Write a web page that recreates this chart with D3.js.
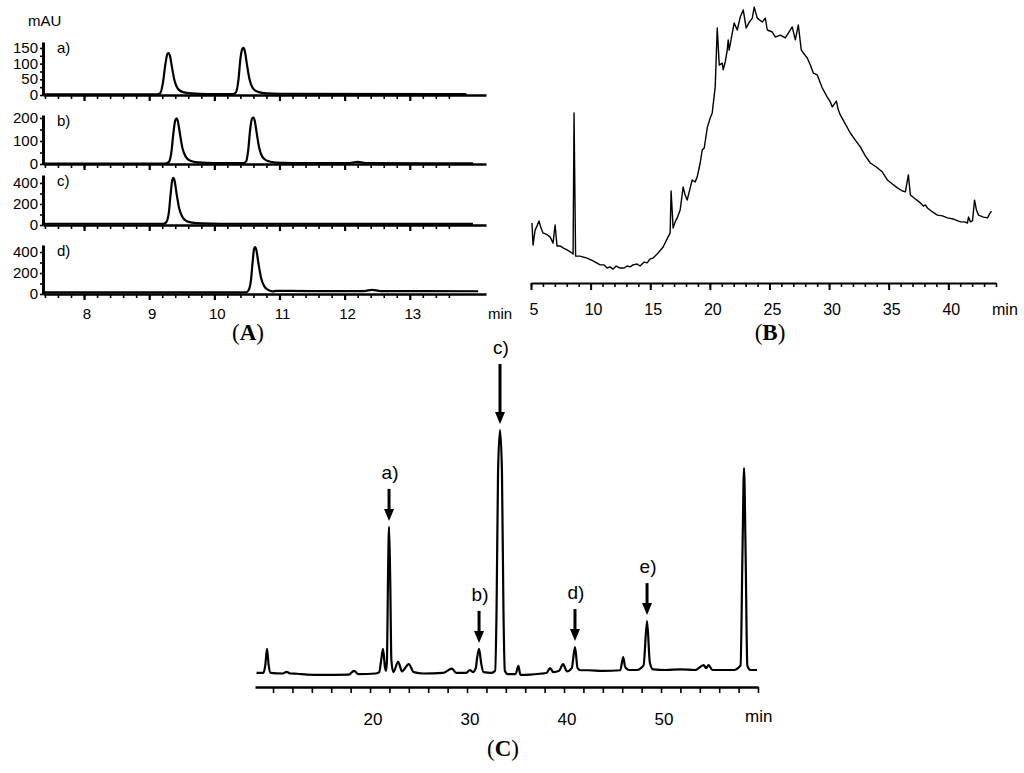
<!DOCTYPE html>
<html>
<head>
<meta charset="utf-8">
<script src="https://cdn.jsdelivr.net/npm/d3@7"></script>
<style>
  body { margin: 0; background: #fff; }
  svg { display: block; }
</style>
</head>
<body>
<svg id="canvas" width="1024" height="773"></svg>
<script>
// ---- data: panel A (time min, mAU) ----
let traceAa = [[7.37,2],[9.12,2],[9.17,6],[9.21,38],[9.25,100],[9.28,131],[9.30,134],[9.32,124],[9.35,88],[9.39,45],[9.44,20],[9.52,9],[9.65,5],[9.9,3],[10.28,3],[10.33,8],[10.37,48],[10.40,115],[10.43,147],[10.45,150],[10.47,138],[10.50,98],[10.54,50],[10.59,22],[10.67,10],[10.8,5],[11.0,4],[13.87,3]]
let traceAb = [[7.37,2],[9.25,2],[9.30,8],[9.34,50],[9.37,130],[9.40,190],[9.42,198],[9.44,186],[9.47,135],[9.51,70],[9.56,32],[9.63,14],[9.75,7],[10.0,4],[10.45,4],[10.49,12],[10.52,60],[10.55,150],[10.58,198],[10.60,202],[10.62,188],[10.65,135],[10.69,68],[10.74,30],[10.82,13],[10.95,6],[11.2,4],[12.05,4],[12.2,9],[12.35,4],[13.97,3]]
let traceAc = [[7.37,12],[9.22,12],[9.26,25],[9.30,110],[9.33,300],[9.355,430],[9.37,448],[9.39,420],[9.42,300],[9.46,160],[9.51,75],[9.57,38],[9.66,22],[9.8,15],[10.1,12],[13.97,10]]
let traceAd = [[7.37,15],[10.48,15],[10.52,30],[10.56,120],[10.59,320],[10.61,430],[10.625,448],[10.645,420],[10.675,300],[10.715,160],[10.765,75],[10.825,40],[10.9,25],[10.95,30],[11.5,28],[12.3,28],[12.42,40],[12.55,28],[14.05,26]]
let namesA = ['a)', 'b)', 'c)', 'd)']
let yTicksA = [[0, 50, 100, 150], [0, 100, 200], [0, 200, 400], [0, 200, 400]]
let xTicksA = [8, 9, 10, 11, 12, 13]

// ---- data: panel B (time min, signal) ----
let traceB = [[5.08,21.2],[5.17,13.4],[5.34,18.7],[5.50,20.1],[5.67,21.9],[5.84,19.4],[6.01,17.7],[6.26,17.3],[6.60,16.3],[6.85,14.1],[7.02,20.5],[7.18,13.1],[7.43,13.1],[7.69,12.4],[8.02,11.7],[8.44,10.6],[8.53,10.2],[8.61,60.1],[8.74,9.5],[9.11,9.5],[9.70,8.8],[10.21,7.8],[10.79,6.4],[11.13,6.4],[11.38,5.3],[11.63,5.7],[11.89,4.9],[12.14,6.0],[12.47,5.3],[12.81,5.3],[13.06,6.0],[13.31,5.7],[13.56,6.4],[13.90,6.7],[14.15,6.0],[14.49,7.4],[14.74,7.1],[14.99,8.5],[15.24,8.8],[15.66,10.6],[16.08,12.7],[16.50,16.3],[16.67,17.7],[16.75,32.5],[16.92,19.4],[17.09,21.6],[17.26,23.0],[17.51,25.8],[17.76,33.9],[17.93,31.1],[18.10,29.3],[18.35,33.6],[18.52,36.4],[18.77,35.7],[18.94,37.5],[19.19,42.4],[19.36,47.0],[19.53,47.7],[19.78,54.8],[20.03,58.3],[20.20,60.1],[20.45,69.3],[20.62,90.1],[20.79,77.0],[21.04,77.7],[21.12,75.3],[21.29,78.1],[21.46,82.3],[21.54,85.9],[21.62,82.3],[21.88,88.3],[22.04,91.9],[22.30,89.4],[22.55,94.0],[22.80,96.5],[23.05,90.1],[23.31,92.2],[23.56,93.6],[23.72,97.5],[23.98,93.6],[24.40,92.2],[24.65,93.6],[24.82,89.4],[25.24,88.7],[25.49,86.9],[25.91,87.6],[26.33,86.6],[26.58,88.3],[26.91,90.5],[27.17,85.9],[27.42,91.2],[27.67,82.3],[28.17,79.5],[28.43,77.0],[28.68,74.2],[29.01,73.5],[29.43,68.9],[29.85,65.7],[30.10,64.0],[30.27,62.2],[30.61,64.3],[30.78,61.1],[30.94,59.4],[31.36,56.2],[31.78,53.0],[32.20,50.5],[32.62,48.1],[33.04,44.9],[33.46,42.4],[33.97,41.0],[34.47,39.2],[34.89,36.4],[35.31,35.0],[35.73,33.6],[36.15,32.5],[36.40,32.2],[36.65,38.2],[36.82,31.1],[37.24,29.7],[37.66,28.3],[37.91,27.2],[38.08,27.6],[38.25,26.5],[38.67,25.1],[39.09,24.0],[39.51,23.7],[39.93,23.0],[40.43,22.6],[41.02,21.6],[41.36,21.6],[41.61,21.2],[41.69,23.3],[41.86,21.6],[42.03,22.0],[42.20,29.3],[42.36,25.8],[42.53,24.0],[42.95,23.3],[43.29,23.0],[43.46,24.4],[43.62,25.4]]
let xTicksB = [5, 10, 15, 20, 25, 30, 35, 40]

// ---- data: panel C (time min, signal) ----
let traceC = [[8.3,5.2],[9.0,5.2],[9.2,8],[9.38,14.1],[9.55,8],[9.75,5.2],[11.0,5.0],[11.4,5.6],[11.8,5.0],[12.5,4.9],[13.5,4.6],[15,4.5],[17.8,4.6],[18.35,6.0],[18.8,4.8],[20.6,5.0],[20.95,5.5],[21.15,10],[21.34,14.1],[21.55,7],[21.65,6.0],[21.75,10],[21.85,40],[21.96,59.3],[22.08,40],[22.2,10],[22.4,5.5],[22.9,9.3],[23.3,5.8],[24.0,8.5],[24.5,5.5],[25.5,5.0],[27.5,5.2],[28.45,6.8],[28.9,5.2],[29.9,5.2],[30.3,6.3],[30.6,5.5],[30.9,7],[31.05,11],[31.24,14.1],[31.45,9],[31.7,5.5],[32.5,5.2],[32.9,6],[33.05,30],[33.2,80],[33.4,95.2],[33.6,80],[33.75,30],[33.9,6],[34.2,4.8],[35.0,4.8],[35.3,7.8],[35.5,4.5],[36.5,4.6],[37.5,4.9],[38.2,5.2],[38.56,7.0],[38.9,5.5],[39.5,6],[39.9,8.5],[40.3,5.8],[40.8,7],[41.13,14.8],[41.4,7],[41.7,6.2],[42.5,6.2],[44,6.0],[45.8,6.2],[46.1,11.1],[46.3,7.5],[46.7,6.3],[47.5,6.3],[48.2,8],[48.56,24.4],[48.85,9],[49.2,6.5],[50.5,6.3],[52,6.5],[53.5,6.3],[54.4,8.1],[54.65,7.0],[54.9,8.1],[55.3,6.3],[57.5,6.3],[58.2,8],[58.4,50],[58.56,81.1],[58.72,50],[58.9,8],[59.2,6.3],[59.9,6.3]]
let peakLabelsC = ['a)', 'b)', 'c)', 'd)', 'e)']
let peakTimesC = [21.96, 31.24, 33.4, 41.13, 48.56]
let peakHeightsC = [59.3, 14.1, 95.2, 14.8, 24.4]
let xTicksC = [20, 30, 40, 50]

let canvas = d3.select('#canvas')
let sans = "'Liberation Sans', Arial, sans-serif"
let narrow = "'Liberation Sans Narrow', 'Arial Narrow', 'Liberation Sans', sans-serif"
let serif = "'Liberation Serif', 'Times New Roman', serif"

let styleAxis = (g, w) => {
  g.select('.domain').attr('stroke', '#000').attr('stroke-width', w)
  g.selectAll('.tick line').attr('stroke', '#000').attr('stroke-width', 1.6)
}

// ================= panel A =================
let xA = d3.scaleLinear().domain([7.37, 14.17]).range([43, 486])
let layoutA = [
  { base: 95, top: 42, max: 169, minor: 25 },
  { base: 164, top: 115, max: 213, minor: 50 },
  { base: 225, top: 175, max: 476, minor: 100 },
  { base: 294, top: 245, max: 467, minor: 100 }
]
let tracesA = [traceAa, traceAb, traceAc, traceAd]
let minorTicksA = d3.range(7.4, 13.61, 0.2)

tracesA.forEach((trace, i) => {
  let lay = layoutA[i]
  let y = d3.scaleLinear().domain([0, lay.max]).range([lay.base, lay.top])
  let g = canvas.append('g')

  // x axis: minor then major ticks
  let gx = g.append('g').attr('transform', `translate(0,${lay.base})`)
    .call(d3.axisBottom(xA).tickValues(minorTicksA).tickSize(4).tickSizeOuter(0).tickFormat(''))
  styleAxis(gx, 2.6)
  let gx2 = g.append('g').attr('transform', `translate(0,${lay.base})`)
    .call(d3.axisBottom(xA).tickValues(xTicksA).tickSize(6).tickSizeOuter(0).tickFormat(''))
  gx2.select('.domain').remove()
  gx2.selectAll('.tick line').attr('stroke', '#000').attr('stroke-width', 2.2)

  // y axis
  let gy = g.append('g').attr('transform', 'translate(43,0)')
    .call(d3.axisLeft(y).tickValues(d3.range(0, lay.max, lay.minor)).tickSize(3).tickSizeOuter(0).tickFormat(''))
  styleAxis(gy, 3)
  g.selectAll('.ylab').data(yTicksA[i]).enter().append('text')
    .attr('x', 38).attr('y', d => y(d) + 5)
    .attr('text-anchor', 'end')
    .style('font-family', sans).style('font-size', '15px')
    .text(d => d)

  g.append('text').attr('x', 57).attr('y', lay.top + 11)
    .style('font-family', sans).style('font-size', '15px').text(namesA[i])

  g.append('path').datum(trace)
    .attr('fill', 'none').attr('stroke', '#000').attr('stroke-width', 2.2)
    .attr('stroke-linejoin', 'round')
    .attr('d', d3.line().x(d => xA(d[0])).y(d => y(d[1])).curve(d3.curveMonotoneX))
})

canvas.selectAll('.xlabA').data(xTicksA).enter().append('text')
  .attr('x', d => xA(d) + 3).attr('y', 319)
  .attr('text-anchor', 'middle')
  .style('font-family', sans).style('font-size', '15px')
  .text(d => d)
canvas.append('text').attr('x', 488).attr('y', 319)
  .style('font-family', sans).style('font-size', '15px').text('min')
canvas.append('text').attr('x', 28).attr('y', 26)
  .style('font-family', sans).style('font-size', '15px').text('mAU')

// ================= panel B =================
let xB = d3.scaleLinear().domain([5, 44]).range([531, 996])
let yB = d3.scaleLinear().domain([0, 100]).range([283, 0])

let gBx = canvas.append('g').attr('transform', 'translate(0,283)')
  .call(d3.axisBottom(xB).tickValues(d3.range(5, 44.1, 1)).tickSize(4).tickSizeOuter(0).tickFormat(''))
styleAxis(gBx, 2.2)
let gBx2 = canvas.append('g').attr('transform', 'translate(0,283)')
  .call(d3.axisBottom(xB).tickValues(xTicksB).tickSize(7).tickSizeOuter(0).tickFormat(''))
gBx2.select('.domain').remove()
gBx2.selectAll('.tick line').attr('stroke', '#000').attr('stroke-width', 2)

canvas.selectAll('.xlabB').data(xTicksB).enter().append('text')
  .attr('x', d => xB(d) + 3).attr('y', 315)
  .attr('text-anchor', 'middle')
  .style('font-family', sans).style('font-size', '16px')
  .text(d => d)
canvas.append('text').attr('x', 992).attr('y', 315)
  .style('font-family', sans).style('font-size', '16px').text('min')

canvas.append('path').datum(traceB)
  .attr('fill', 'none').attr('stroke', '#000').attr('stroke-width', 1.4)
  .attr('stroke-linejoin', 'round')
  .attr('d', d3.line().x(d => xB(d[0])).y(d => yB(d[1])))

// ================= panel C =================
let xC = d3.scaleLinear().domain([8.14, 60.0]).range([255, 758])
let yC = d3.scaleLinear().domain([0, 100]).range([687, 417])

let gCx = canvas.append('g').attr('transform', 'translate(0,687)')
  .call(d3.axisBottom(xC).tickValues(d3.range(10, 60.1, 2)).tickSize(6).tickSizeOuter(0).tickFormat(''))
styleAxis(gCx, 2.6)

canvas.selectAll('.xlabC').data(xTicksC).enter().append('text')
  .attr('x', d => xC(d) + 3).attr('y', 725)
  .attr('text-anchor', 'middle')
  .style('font-family', narrow).style('font-size', '17px')
  .text(d => d)
canvas.append('text').attr('x', 745).attr('y', 722)
  .style('font-family', narrow).style('font-size', '17px').text('min')

canvas.append('path').datum(traceC)
  .attr('fill', 'none').attr('stroke', '#000').attr('stroke-width', 2.2)
  .attr('stroke-linejoin', 'round')
  .attr('d', d3.line().x(d => xC(d[0])).y(d => yC(d[1])).curve(d3.curveMonotoneX))

// arrows over the marked peaks
peakTimesC.forEach((t, i) => {
  let x = xC(t)
  let tip = yC(peakHeightsC[i]) - 6
  let len = peakLabelsC[i] === 'c)' ? 60 : 32
  canvas.append('line')
    .attr('x1', x).attr('x2', x).attr('y1', tip - len).attr('y2', tip - 10)
    .attr('stroke', '#000').attr('stroke-width', 3)
  canvas.append('path')
    .attr('d', `M${x - 5},${tip - 12}L${x + 5},${tip - 12}L${x},${tip}Z`)
    .attr('fill', '#000')
  canvas.append('text')
    .attr('x', x + 1).attr('y', tip - len - 10)
    .attr('text-anchor', 'middle')
    .style('font-family', narrow).style('font-size', '19px')
    .text(peakLabelsC[i])
})

// ================= panel letters =================
let letters = [['A', 248, 340], ['B', 770, 340], ['C', 503, 756]]
letters.forEach(l => {
  let t = canvas.append('text').attr('x', l[1]).attr('y', l[2])
    .attr('text-anchor', 'middle')
    .style('font-family', serif).style('font-size', '23px')
  t.append('tspan').text('(')
  t.append('tspan').style('font-weight', 'bold').text(l[0])
  t.append('tspan').text(')')
})
</script>
</body>
</html>
